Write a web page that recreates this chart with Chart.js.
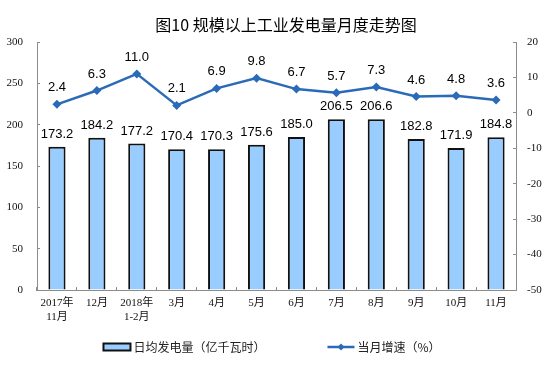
<!DOCTYPE html>
<html>
<head>
<meta charset="utf-8">
<script src="https://cdn.jsdelivr.net/npm/chart.js@4/dist/chart.umd.min.js"></script>
<style>
  html, body { margin: 0; padding: 0; background: #fff; }
  #wrap { width: 554px; height: 381px; }
</style>
</head>
<body>
<div id="wrap"><canvas id="c" width="554" height="381"></canvas></div>
<script>
const titleText = '图10 规模以上工业发电量月度走势图';
const categories = [['2017年','11月'], '12月', ['2018年','1-2月'], '3月', '4月', '5月', '6月', '7月', '8月', '9月', '10月', '11月'];
const dailyOutput = [173.2, 184.2, 177.2, 170.4, 170.3, 175.6, 185.0, 206.5, 206.6, 182.8, 171.9, 184.8];
const monthlyGrowth = [2.4, 6.3, 11.0, 2.1, 6.9, 9.8, 6.7, 5.7, 7.3, 4.6, 4.8, 3.6];
const barLabel = '日均发电量（亿千瓦时）';
const lineLabel = '当月增速（%）';
const leftTicks = { min: 0, max: 300, step: 50 };
const rightTicks = { min: -50, max: 20, step: 10 };

const BAR_FILL = '#99CCFF';
const BAR_BORDER = '#111111';
const LINE_COLOR = '#2A6AB8';
const AXIS_COLOR = '#8C8C8C';
const tickFont = { family: '"Liberation Serif", "Noto Sans CJK SC", serif', size: 11 };

const decorPlugin = {
  id: 'decor',
  afterDatasetsDraw(chart) {
    const ctx = chart.ctx;
    ctx.save();
    ctx.fillStyle = '#000';
    ctx.font = '13px "Liberation Sans", Arial, sans-serif';
    ctx.textAlign = 'center';
    ctx.textBaseline = 'alphabetic';
    chart.getDatasetMeta(0).data.forEach((el, i) => {
      ctx.fillText(dailyOutput[i].toFixed(1), el.x, el.y - 9);
    });
    chart.getDatasetMeta(1).data.forEach((el, i) => {
      ctx.fillText(monthlyGrowth[i].toFixed(1), el.x, el.y - 13);
    });
    ctx.restore();
  },
  afterDraw(chart) {
    const ctx = chart.ctx;
    ctx.save();
    // title
    ctx.fillStyle = '#000';
    ctx.font = '16px "Noto Sans CJK SC", sans-serif';
    ctx.textAlign = 'center';
    ctx.textBaseline = 'middle';
    ctx.fillText(titleText, 286, 25);
    // legend
    const ly = 347;
    ctx.font = '12px "Noto Sans CJK SC", sans-serif';
    ctx.textAlign = 'left';
    const w1 = ctx.measureText(barLabel).width;
    const w2 = ctx.measureText(lineLabel).width;
    const sym = 27, gapT = 3, gapItems = 62;
    const total = sym + gapT + w1 + gapItems + sym + gapT + w2;
    let x = 272 - total / 2;
    // bar item
    const ds0 = chart.data.datasets[0];
    ctx.fillStyle = ds0.backgroundColor;
    ctx.fillRect(x, ly - 3.5, sym, 7);
    ctx.strokeStyle = ds0.borderColor;
    ctx.lineWidth = 2;
    ctx.strokeRect(x, ly - 3.5, sym, 7);
    ctx.fillStyle = '#222';
    ctx.fillText(barLabel, x + sym + gapT, ly);
    x += sym + gapT + w1 + gapItems;
    // line item
    const ds1 = chart.data.datasets[1];
    ctx.strokeStyle = ds1.borderColor;
    ctx.lineWidth = 2.5;
    ctx.beginPath();
    ctx.moveTo(x, ly);
    ctx.lineTo(x + sym, ly);
    ctx.stroke();
    ctx.fillStyle = ds1.pointBackgroundColor;
    const cx = x + sym / 2, r = 3.5;
    ctx.beginPath();
    ctx.moveTo(cx, ly - r); ctx.lineTo(cx + r, ly); ctx.lineTo(cx, ly + r); ctx.lineTo(cx - r, ly);
    ctx.closePath(); ctx.fill();
    ctx.fillStyle = '#222';
    ctx.fillText(lineLabel, x + sym + gapT, ly);
    ctx.restore();
  }
};

new Chart(document.getElementById('c'), {
  type: 'bar',
  data: {
    labels: categories,
    datasets: [
      {
        type: 'bar',
        label: barLabel,
        data: dailyOutput,
        yAxisID: 'yL',
        backgroundColor: BAR_FILL,
        borderColor: BAR_BORDER,
        borderWidth: 2,
        categoryPercentage: 1,
        barPercentage: 0.43,
        order: 2
      },
      {
        type: 'line',
        label: lineLabel,
        data: monthlyGrowth,
        yAxisID: 'yR',
        borderColor: LINE_COLOR,
        backgroundColor: LINE_COLOR,
        pointBackgroundColor: LINE_COLOR,
        pointBorderColor: LINE_COLOR,
        borderWidth: 2.5,
        pointStyle: 'rectRot',
        pointRadius: 4.5,
        pointBorderWidth: 0,
        tension: 0,
        order: 1
      }
    ]
  },
  options: {
    responsive: false,
    animation: false,
    devicePixelRatio: 1,
    layout: { padding: { top: 42, bottom: 51, left: 0, right: 0 } },
    plugins: {
      legend: { display: false },
      title: { display: false },
      tooltip: { enabled: false }
    },
    scales: {
      x: {
        offset: true,
        grid: { offset: true, drawOnChartArea: false, drawTicks: true, tickLength: -3, color: AXIS_COLOR },
        border: { color: AXIS_COLOR, width: 1 },
        ticks: { font: { ...tickFont, lineHeight: 1.3 }, color: '#111', padding: 9, maxRotation: 0, autoSkip: false },
        afterFit(s) { s.height = 40; }
      },
      yL: {
        position: 'left',
        min: leftTicks.min, max: leftTicks.max,
        grid: { drawOnChartArea: false, drawTicks: true, tickLength: -3, color: AXIS_COLOR },
        border: { color: AXIS_COLOR, width: 1 },
        ticks: { stepSize: leftTicks.step, font: tickFont, color: '#111', padding: 17 },
        afterFit(s) { s.width = 37; }
      },
      yR: {
        position: 'right',
        min: rightTicks.min, max: rightTicks.max,
        grid: { drawOnChartArea: false, drawTicks: true, tickLength: -3, color: AXIS_COLOR },
        border: { color: AXIS_COLOR, width: 1 },
        ticks: { stepSize: rightTicks.step, font: tickFont, color: '#111', padding: 14 },
        afterFit(s) { s.width = 38; }
      }
    }
  },
  plugins: [decorPlugin]
});
</script>
</body>
</html>
